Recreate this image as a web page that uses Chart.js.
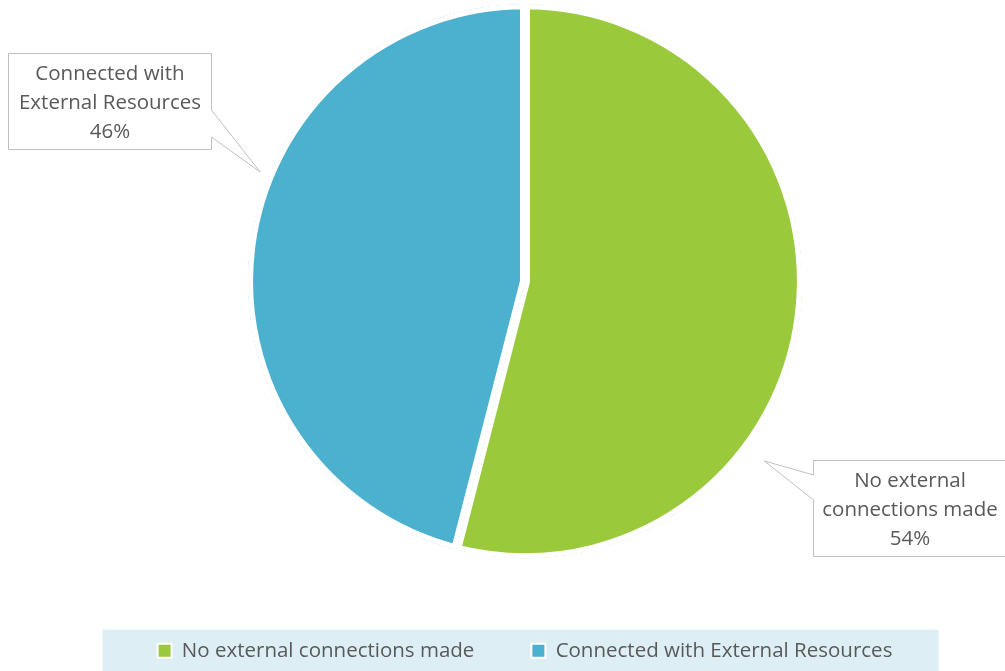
<!DOCTYPE html>
<html lang="en">
<head>
    <meta charset="UTF-8">
    <meta name="viewport" content="width=device-width, initial-scale=1.0">
    <script src="https://cdn.jsdelivr.net/npm/chart.js"></script>
    <title>External connections</title>
    <style>
      html, body { margin: 0; padding: 0; overflow: hidden; background: #ffffff; }
      canvas { display: block; }
    </style>
</head>
<body>
    <canvas id="myPieChart" width="1005" height="671"></canvas>

<script>
  // dados do grafico
  const categorias = ["No external connections made", "Connected with External Resources"];
  const valores = [54, 46];
  // texto das caixas (quebra de linha)
  const linhasRotulo = [
    ["No external", "connections made"],
    ["Connected with", "External Resources"]
  ];
  const cores = ["#9ACA3C", "#4BB1CF"];

  const fonte = "'Open Sans'";
  const corTexto = "#595959";

  // posicao das caixas em relacao ao centro da pizza
  const caixas = [
    { dx: 288, dy: 179, w: 194, h: 97, lado: "left", p1: 15, p2: 40, angulo: 36.9, dist: 22 },
    { dx: -517, dy: -228, w: 204, h: 97, lado: "right", p1: 57, p2: 84, angulo: 202.4, dist: 9 }
  ];

  // fundo azul claro atras da legenda
  const fundoLegenda = {
    id: "fundoLegenda",
    beforeDraw(chart) {
      const leg = chart.legend;
      if (!leg || !leg.legendHitBoxes.length) return;
      const hb = leg.legendHitBoxes;
      const first = hb[0];
      const last = hb[hb.length - 1];
      const meio = first.top + first.height / 2;
      const ctx = chart.ctx;
      ctx.save();
      ctx.fillStyle = "#DDEFF5";
      ctx.fillRect(first.left - 55, meio - 21, (last.left + last.width + 46) - (first.left - 55), 80);
      ctx.restore();
    }
  };

  // caixas com ponteiro (estilo excel)
  const rotulos = {
    id: "rotulos",
    afterDatasetsDraw(chart) {
      const ctx = chart.ctx;
      const meta = chart.getDatasetMeta(0);
      const total = valores.reduce((a, b) => a + b, 0);
      meta.data.forEach((arc, i) => {
        const c = caixas[i];
        const cx = arc.x, cy = arc.y, r = arc.outerRadius;
        const left = Math.round(cx + c.dx), top = Math.round(cy + c.dy);
        const right = left + c.w, bottom = top + c.h;
        const a = c.angulo * Math.PI / 180;
        const tx = cx + Math.cos(a) * (r + c.dist);
        const ty = cy + Math.sin(a) * (r + c.dist);

        ctx.save();
        ctx.beginPath();
        ctx.moveTo(left + 0.5, top + 0.5);
        ctx.lineTo(right - 0.5, top + 0.5);
        if (c.lado === "right") {
          ctx.lineTo(right - 0.5, top + c.p1);
          ctx.lineTo(tx, ty);
          ctx.lineTo(right - 0.5, top + c.p2);
        }
        ctx.lineTo(right - 0.5, bottom - 0.5);
        ctx.lineTo(left + 0.5, bottom - 0.5);
        if (c.lado === "left") {
          ctx.lineTo(left + 0.5, top + c.p2);
          ctx.lineTo(tx, ty);
          ctx.lineTo(left + 0.5, top + c.p1);
        }
        ctx.closePath();
        ctx.fillStyle = "#ffffff";
        ctx.fill();
        ctx.strokeStyle = "#BFBFBF";
        ctx.lineWidth = 1;
        ctx.stroke();

        const linhas = linhasRotulo[i].concat([Math.round(valores[i] / total * 100) + "%"]);
        ctx.fillStyle = corTexto;
        ctx.font = "20.5px " + fonte;
        ctx.textAlign = "center";
        ctx.textBaseline = "middle";
        const meioX = (left + right) / 2;
        linhas.forEach((t, k) => {
          ctx.fillText(t, meioX, top + 21 + k * 29);
        });
        ctx.restore();
      });
    }
  };

  const dados = {
    labels: categorias,
    datasets: [{
      data: valores,
      backgroundColor: cores,
      borderColor: "#ffffff",
      borderWidth: 5,
      borderAlign: "inner",
      hoverOffset: 0
    }]
  };

  const config = {
    type: "pie",
    data: dados,
    options: {
      responsive: false,
      animation: false,
      events: [],
      layout: { padding: { left: 45, top: 4, right: 0, bottom: 0 } },
      plugins: {
        tooltip: { enabled: false },
        legend: {
          position: "bottom",
          // titulo vazio so para empurrar a legenda pra baixo
          title: { display: true, text: " ", font: { size: 1, lineHeight: 1 }, padding: { top: 24, bottom: 0 } },
          labels: {
            color: corTexto,
            font: { family: fonte, size: 20.5 },
            boxWidth: 14,
            boxHeight: 14,
            padding: 57,
            generateLabels(chart) {
              const itens = Chart.overrides.pie.plugins.legend.labels.generateLabels(chart);
              itens.forEach(it => { it.lineWidth = 2; it.strokeStyle = "#ffffff"; });
              return itens;
            }
          }
        }
      }
    },
    plugins: [fundoLegenda, rotulos]
  };

  let myPieChart = new Chart(document.getElementById("myPieChart"), config);
</script>
</body>
</html>
